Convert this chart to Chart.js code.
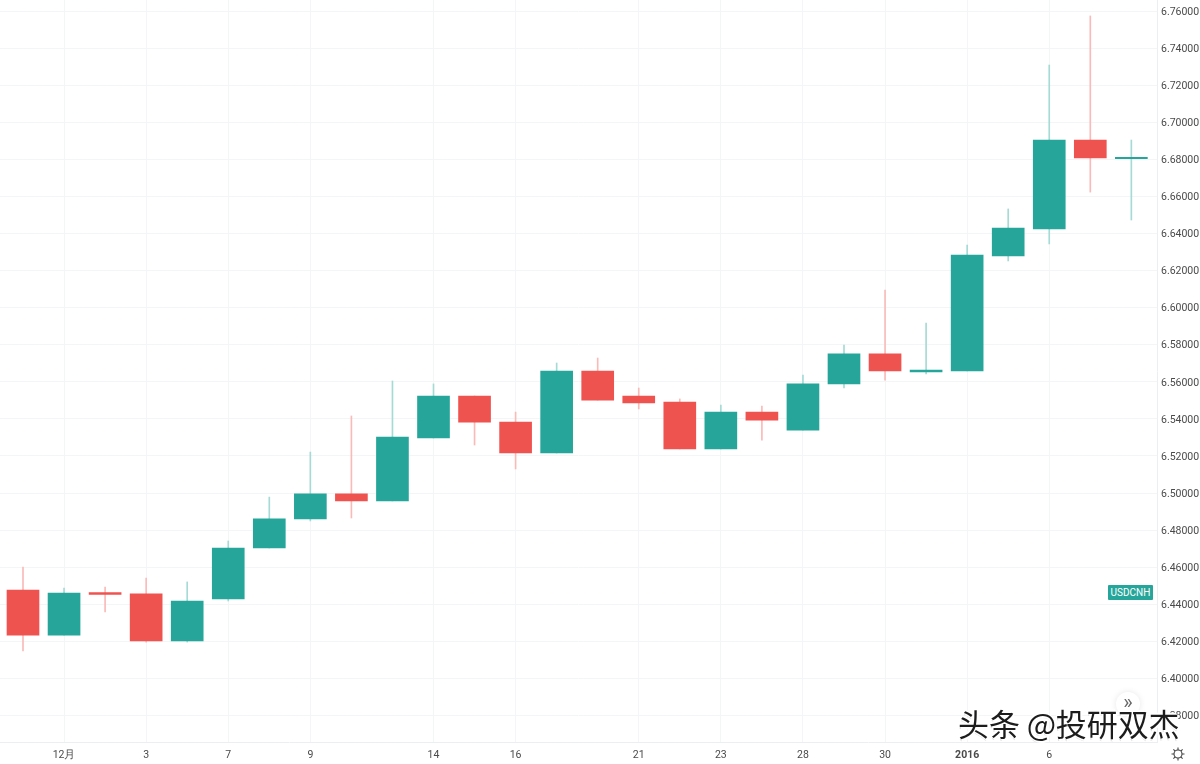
<!DOCTYPE html>
<html>
<head>
<meta charset="utf-8">
<script src="https://cdn.jsdelivr.net/npm/chart.js@4"></script>
<style>
html,body{margin:0;padding:0;background:#fff;overflow:hidden}
#wrap{position:relative;width:1200px;height:764px}
canvas{display:block}
#tag{position:absolute;left:1108px;top:585px;width:45px;height:15px;background:#26a69a;color:#fff;font:10px/15px Roboto,sans-serif;text-align:center;border-radius:1px}
#wm{position:absolute;left:958px;top:703px;font:31px/40px "Noto Sans CJK SC",sans-serif;letter-spacing:-0.1px;color:#1c1c1c;white-space:pre;text-shadow:2px 0 0 #fff,-2px 0 0 #fff,1px 2px 0 #fff,-1px -2px 0 #fff,0 2px 0 #ddd}
#more{position:absolute;left:1116px;top:692px;width:24px;height:24px;border-radius:12px;background:#fff;box-shadow:0 0 6px rgba(0,0,0,.10);color:#666;font:20px/20px Roboto,sans-serif;text-align:center}
#gear{position:absolute;left:1171px;top:747px}
</style>
</head>
<body>
<div id="wrap">
<canvas id="c" width="1200" height="764" style="width:1200px;height:764px"></canvas>
<div id="tag">USDCNH</div>
<div id="more">»</div>
<div id="wm">头条 @投研双杰</div>
<svg id="gear" width="14" height="14" viewBox="0 0 14 14" fill="none" stroke="#444" stroke-width="1.1"><circle cx="7" cy="7" r="4"/><path d="M7 0.5v2.5M7 11v2.5M0.5 7h2.5M11 7h2.5M2.4 2.4l1.8 1.8M9.8 9.8l1.8 1.8M2.4 11.6l1.8-1.8M9.8 4.2l1.8-1.8"/></svg>
</div>
<script>
const opens  = [6.4476,6.4233,6.4463,6.4455,6.4201,6.4428,6.4703,6.4860,6.4995,6.4957,6.5297,6.5524,6.5383,6.5216,6.5659,6.5524,6.5491,6.5238,6.5437,6.5340,6.5589,6.5751,6.5654,6.5659,6.6280,6.6426,6.6906,6.6806];
const highs  = [6.4600,6.4487,6.4492,6.4541,6.4520,6.4741,6.4978,6.5221,6.5416,6.5605,6.5589,6.5524,6.5437,6.5702,6.5729,6.5567,6.5508,6.5475,6.5470,6.5637,6.5799,6.6096,6.5918,6.6339,6.6534,6.7311,6.7576,6.6906];
const lows   = [6.4147,6.4233,6.4358,6.4195,6.4195,6.4417,6.4703,6.4849,6.4865,6.4957,6.5297,6.5259,6.5130,6.5216,6.5502,6.5454,6.5238,6.5238,6.5286,6.5340,6.5567,6.5610,6.5643,6.5659,6.6253,6.6345,6.6625,6.6474];
const closes = [6.4233,6.4460,6.4452,6.4201,6.4417,6.4703,6.4860,6.4995,6.4957,6.5302,6.5524,6.5383,6.5216,6.5659,6.5502,6.5486,6.5238,6.5437,6.5394,6.5589,6.5751,6.5659,6.5664,6.6285,6.6431,6.6906,6.6809,6.6812];
const xTickIndex  = [1,3,5,7,10,12,15,17,19,21,23,25];
const xTickLabels = ['12月','3','7','9','14','16','21','23','28','30','2016','6'];
const yTicks = [6.38,6.40,6.42,6.44,6.46,6.48,6.50,6.52,6.54,6.56,6.58,6.60,6.62,6.64,6.66,6.68,6.70,6.72,6.74,6.76];

const UP='#26a69a', DOWN='#ef5350', UPW='#a5dad5', DOWNW='#f9bbb9', GRID='#f4f5f7';
const isUp = i => closes[i] >= opens[i];
new Chart(document.getElementById('c'),{
  type:'bar',
  data:{datasets:[
    {label:'body',order:1,grouped:false,barThickness:32,borderWidth:0,
     data:opens.map((o,i)=>({x:i,y:[o,closes[i]]})),
     backgroundColor:opens.map((_,i)=>isUp(i)?UP:DOWN)},
    {label:'wick',order:2,grouped:false,barThickness:1,borderWidth:0,
     data:highs.map((h,i)=>({x:i,y:[lows[i],h]})),
     backgroundColor:opens.map((_,i)=>isUp(i)?UPW:DOWNW)}
  ]},
  options:{
    responsive:false,animation:false,devicePixelRatio:1,
    layout:{padding:0},
    plugins:{legend:{display:false},tooltip:{enabled:false}},
    scales:{
      x:{type:'linear',offset:false,min:-0.5603,max:27.6248,
        grid:{offset:false,color:GRID,drawTicks:false},
        border:{color:'#eceef1'},
        afterBuildTicks:s=>{s.ticks=xTickIndex.map(v=>({value:v}));},
        afterFit:s=>{s.height=22;s.paddingLeft=0;s.paddingRight=0;},
        ticks:{autoSkip:false,maxRotation:0,padding:7,color:'#4a4a4a',
          font:c=>({family:'Roboto',size:10.5,weight:(c.tick&&c.tick.label==='2016')?'bold':'normal'}),
          callback:v=>xTickLabels[xTickIndex.indexOf(v)]}},
      y:{position:'right',min:6.36556,max:6.76621,
        grid:{color:GRID,drawTicks:false,offset:false},
        border:{color:'#eceef1'},
        afterBuildTicks:s=>{s.ticks=yTicks.map(v=>({value:v}));},
        afterFit:s=>{s.width=43;s.paddingTop=0;s.paddingBottom=0;},
        ticks:{autoSkip:false,padding:4,labelOffset:1,color:'#4a4a4a',font:{family:'Roboto',size:10.5},
          callback:v=>v.toFixed(5)}}
    }
  }
});
</script>
</body>
</html>
